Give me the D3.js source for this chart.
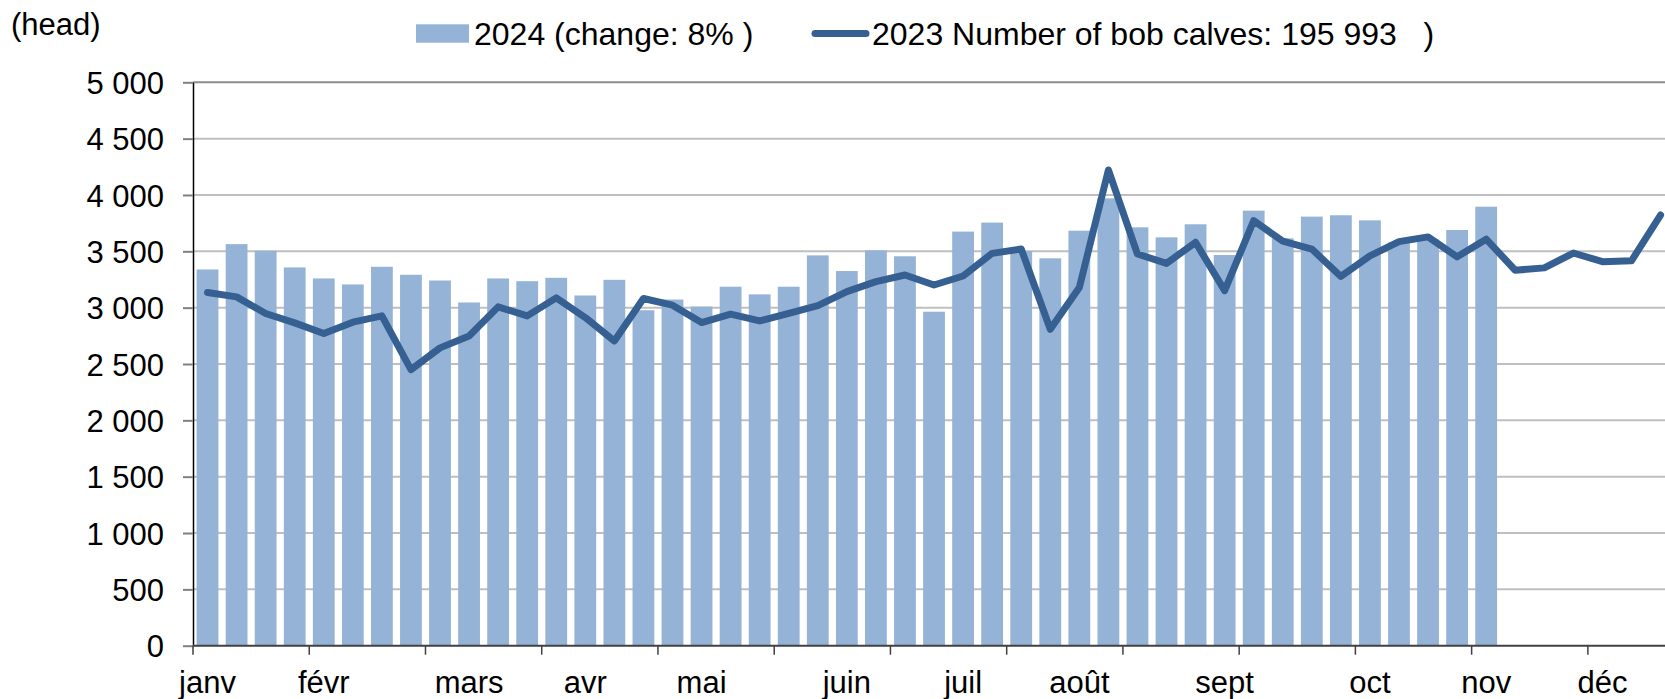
<!DOCTYPE html>
<html>
<head>
<meta charset="utf-8">
<script src="https://cdn.jsdelivr.net/npm/d3@7"></script>
<style>
  body { margin: 0; background: #fff; }
  svg { display: block; font-family: "Liberation Sans", Arial, sans-serif; }
  text { fill: #000; }
</style>
</head>
<body>
<script>
// weekly counts, 2024 bars and 2023 line (head)
const bars2024 = [3339, 3564, 3505, 3357, 3259, 3206, 3363, 3292, 3241, 3046,
    3259, 3235, 3265, 3108, 3247, 2977, 3072, 3010, 3186, 3118,
    3186, 3464, 3325, 3509, 3456, 2964, 3675, 3755, 3503, 3438,
    3683, 3970, 3713, 3624, 3740, 3467, 3861, 3615, 3808, 3820,
    3775, 3580, 3605, 3689, 3896];
const line2023 = [3135, 3096, 2948, 2865, 2770, 2871, 2927, 2450, 2643, 2749,
    3007, 2927, 3087, 2912, 2705, 3081, 3022, 2868, 2942, 2882,
    2950, 3018, 3142, 3231, 3290, 3201, 3281, 3482, 3521, 2808,
    3178, 4222, 3476, 3393, 3580, 3151, 3772, 3590, 3520, 3277,
    3460, 3586, 3628, 3451, 3608, 3332, 3353, 3485, 3408, 3416,
    3822];
const nWeeks = 52;
const monthLabels = ["janv", "févr", "mars", "avr", "mai", "juin", "juil", "août", "sept", "oct", "nov", "déc"];
const monthWeek = [0, 4, 9, 13, 17, 22, 26, 30, 35, 40, 44, 48];
const yTicks = [0, 500, 1000, 1500, 2000, 2500, 3000, 3500, 4000, 4500, 5000];
const legendBar = "2024 (change: 8% )";
const legendLine = "2023 Number of bob calves: 195 993   )";
const unitLabel = "(head)";

const W = 1665, H = 699;
const margin = {top: 82.3, left: 193, bottom: 53.3},
    step = 29.06,
    width = nWeeks * step,
    height = H - margin.top - margin.bottom;

const svg = d3.select("body").append("svg")
    .attr("width", W)
    .attr("height", H);

const g = svg.append("g")
    .attr("transform", "translate(" + margin.left + "," + margin.top + ")");

const weeks = d3.range(nWeeks);
const x = d3.scaleBand().domain(weeks).range([0, width]).paddingInner(0.25).paddingOuter(0.125);
const xb = d3.scaleLinear().domain([0, nWeeks]).range([0, width]);
const y = d3.scaleLinear().domain([0, 5000]).range([height, 0]);

// gridlines
g.append("g")
    .selectAll("line")
    .data(yTicks.filter(d => d > 0))
    .join("line")
    .attr("x1", 0)
    .attr("x2", width)
    .attr("y1", d => y(d))
    .attr("y2", d => y(d))
    .attr("stroke", d => d === 5000 ? "#8c8c8c" : "#bfbfbf")
    .attr("stroke-width", 2);

// bars
g.append("g")
    .selectAll("rect")
    .data(bars2024)
    .join("rect")
    .attr("x", (d, i) => x(i))
    .attr("width", x.bandwidth())
    .attr("y", d => y(d))
    .attr("height", d => height - y(d))
    .attr("fill", "#95b3d7");

// y axis
const yAxis = g.append("g")
    .call(d3.axisLeft(y)
        .tickValues(yTicks)
        .tickFormat(d => d3.format(",")(d).replace(/,/g, " "))
        .tickSize(10)
        .tickSizeOuter(0)
        .tickPadding(19));
yAxis.select(".domain").attr("stroke", "#000").attr("stroke-width", 1.5);
yAxis.selectAll(".tick line").attr("stroke", "#808080").attr("stroke-width", 2);
yAxis.selectAll("text")
    .attr("dy", "0.36em")
    .style("font-size", "31px")
    .style("fill", "#000");

// x axis: labels on the first week of each month
const xAxis = g.append("g")
    .attr("transform", "translate(0," + height + ")")
    .call(d3.axisBottom(x)
        .tickValues(monthWeek)
        .tickFormat((d, i) => monthLabels[i])
        .tickSize(0)
        .tickSizeOuter(0)
        .tickPadding(25));
xAxis.select(".domain").remove();
xAxis.selectAll("text")
    .style("font-size", "31px")
    .style("fill", "#000");

// tick marks every 4 weeks
g.append("g")
    .selectAll("line")
    .data(d3.range(0, nWeeks + 1, 4))
    .join("line")
    .attr("x1", d => xb(d))
    .attr("x2", d => xb(d))
    .attr("y1", height)
    .attr("y2", height + 9)
    .attr("stroke", "#404040")
    .attr("stroke-width", 1.5);

g.append("line")
    .attr("x1", 0)
    .attr("x2", width)
    .attr("y1", height)
    .attr("y2", height)
    .attr("stroke", "#404040")
    .attr("stroke-width", 2);

// 2023 line
g.append("path")
    .datum(line2023)
    .attr("fill", "none")
    .attr("stroke", "#376092")
    .attr("stroke-width", 7)
    .attr("stroke-linejoin", "round")
    .attr("stroke-linecap", "round")
    .attr("d", d3.line()
        .x((d, i) => x(i) + x.bandwidth() / 2)
        .y(d => y(d)));

// unit label
svg.append("text")
    .attr("x", 11)
    .attr("y", 35)
    .style("font-size", "31px")
    .text(unitLabel);

// legend
const legend = svg.append("g");
legend.append("rect")
    .attr("x", 416)
    .attr("y", 24.3)
    .attr("width", 53)
    .attr("height", 18.4)
    .attr("fill", "#95b3d7");
legend.append("text")
    .attr("x", 474)
    .attr("y", 45)
    .style("font-size", "32px")
    .style("white-space", "pre")
    .text(legendBar);
legend.append("line")
    .attr("x1", 815)
    .attr("x2", 866)
    .attr("y1", 33.5)
    .attr("y2", 33.5)
    .attr("stroke", "#376092")
    .attr("stroke-width", 7)
    .attr("stroke-linecap", "round");
legend.append("text")
    .attr("x", 872)
    .attr("y", 45)
    .style("font-size", "32px")
    .style("white-space", "pre")
    .text(legendLine);
</script>
</body>
</html>
